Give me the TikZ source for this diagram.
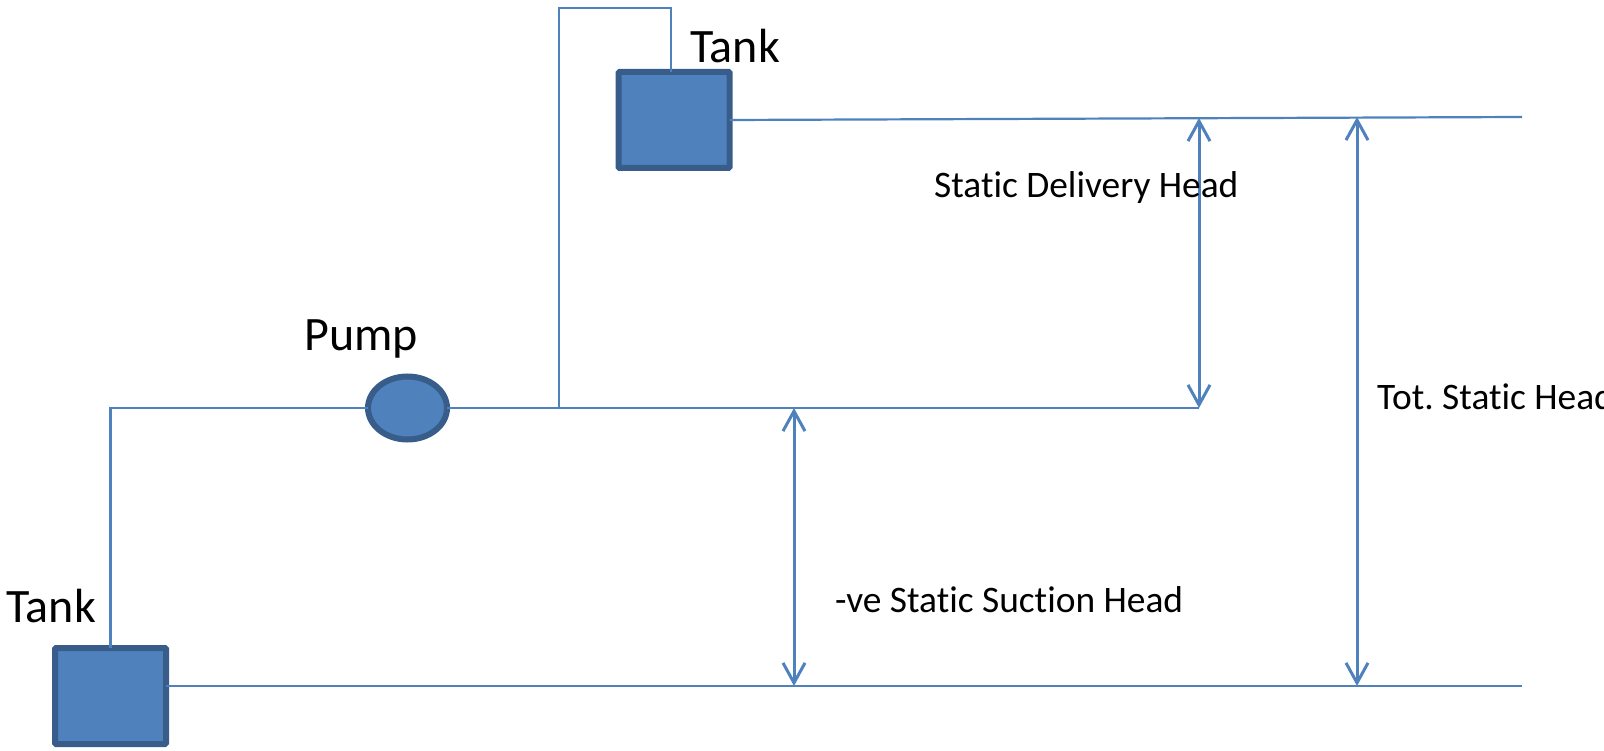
\documentclass[tikz,border=0pt]{standalone}
\usepackage{fontspec}
\setmainfont[Ligatures=NoCommon]{Carlito}
\usetikzlibrary{shapes.geometric}
\usetikzlibrary{arrows.meta}
\definecolor{pipeblue}{HTML}{4F81BD}
\definecolor{edgeblue}{HTML}{385D8A}
\tikzset{
	tankbox/.style={draw=edgeblue,fill=pipeblue,line width=6pt,rounded corners=1pt,minimum width=111pt,minimum height=96pt,inner sep=0pt,outer sep=0pt},
	pumpbody/.style={ellipse,draw=edgeblue,fill=pipeblue,line width=6pt,minimum width=79pt,minimum height=63pt,inner sep=0pt,outer sep=0pt},
	pipe/.style={draw=pipeblue,line width=2.2pt},
	headarrow/.style={draw=pipeblue,line width=3pt,{Straight Barb[length=20pt,width=22pt]}-{Straight Barb[length=20pt,width=22pt]}},
	biglabel/.style={anchor=base west,inner sep=0pt,font=\fontsize{48}{48}\selectfont},
	smalllabel/.style={anchor=base west,inner sep=0pt,font=\frenchspacing\fontsize{37.4}{37.4}\selectfont}
}
\begin{document}
\begin{tikzpicture}[x=1pt,y=-1pt]
		\useasboundingbox (0,0) rectangle (1604,751);
		\coordinate (topright) at (1522,117);
		\coordinate (lowright) at (1522,686);
		\coordinate (midend) at (1199,408);
		\coordinate (teeup) at (559,408);
		\coordinate (loopleft) at (559,8);
		\coordinate (loopright) at (671,8);
		\coordinate (upperline) at (1199,118);
		\coordinate (totalline) at (1357,117);
		\coordinate (suctiontop) at (794,408);
		\coordinate (suctionlow) at (794,686);
		\coordinate (totallow) at (1357,686);
		\node[tankbox] (tankup) at (674,120) {};
		\node[tankbox] (tanklow) at (110.5,696) {};
		\node[pumpbody] (pump) at (407.5,408) {};
		\draw[pipe] (tanklow.north) |- (pump.west);
		\draw[pipe] (pump.east) -- (midend);
		\draw[pipe] (teeup) -- (loopleft) -- (loopright) -- (loopright |- tankup.north);
		\draw[pipe] (tankup.east) -- (topright);
		\draw[pipe] (tanklow.east |- lowright) -- (lowright);
		\draw[headarrow] (upperline) -- (midend);
		\draw[headarrow] (suctiontop) -- (suctionlow);
		\draw[headarrow] (totalline) -- (totallow);
		\node[biglabel] (tankuplabel) at (690,63) {Tank};
		\node[biglabel] (tanklowlabel) at (6,622) {Tank};
		\node[biglabel] (pumplabel) at (304,350) {Pump};
		\node[smalllabel] (deliverylabel) at (934,198) {Static Delivery Head};
		\node[smalllabel] (suctionlabel) at (835,612) {-ve Static Suction Head};
		\node[smalllabel] (totallabel) at (1377,409) {Tot. Static Head};
	\end{tikzpicture}
\end{document}
